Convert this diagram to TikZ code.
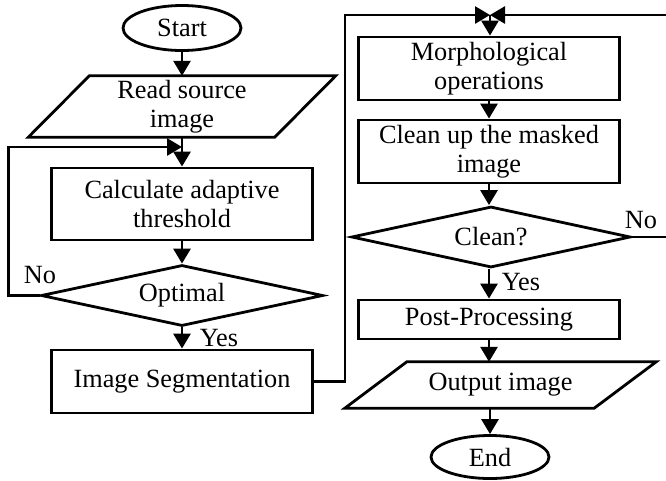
\documentclass[tikz,border=0pt]{standalone}
\usepackage{fontspec}
\setmainfont{Liberation Serif}
\usetikzlibrary{shapes.geometric,arrows.meta,calc}
\begin{document}
\begin{tikzpicture}[x=1pt,y=-1pt,
  every node/.style={font=\fontsize{26.3}{28.5}\selectfont, inner sep=0pt, align=center},
  line/.style={line width=2.8pt, line join=miter},
  arr/.style={line, -{Triangle[width=17pt,length=15pt]}},
  procbox/.style={draw, line width=2.8pt, rectangle, minimum width=261pt},
  term/.style={draw, line width=2.8pt, ellipse, minimum width=118pt, minimum height=45pt},
  decide/.style={draw, line width=2.8pt, diamond, shape aspect=4.6},
  iobox/.style={rectangle}
]
\useasboundingbox (0,0) rectangle (666,480);
% left column
\node[term] (start) at (182,28) {Start};
\node[iobox, minimum width=246pt, minimum height=61pt] (read) at (182,106.5) {Read source\\image};
\draw[line] ([xshift=30.5pt]read.north west) -- ([xshift=30.5pt]read.north east)
  -- ([xshift=-30.5pt]read.south east) -- ([xshift=-30.5pt]read.south west) -- cycle;
\node[procbox, minimum height=72pt] (calc) at (182,204) {Calculate adaptive\\threshold};
\node[decide, minimum width=282pt, minimum height=61pt] (opt) at (182,295.5) {Optimal};
\node[procbox, minimum height=63pt] (seg) at (182,381.5) {Image Segmentation};
\coordinate (jl) at (182,147);
\node (nol) at (40,275) {No};
\node (yesl) at (219,338) {Yes};
% right column
\coordinate (jr) at (490,15);
\node[procbox, minimum height=63pt] (morph) at (489,68.5) {Morphological\\operations};
\node[procbox, minimum height=63pt] (clean) at (489,151.5) {Clean up the masked\\image};
\node[decide, minimum width=279pt, minimum height=61pt] (cq) at (491,237) {Clean?};
\node[procbox, minimum height=39pt] (post) at (489,319.5) {Post-Processing};
\node[iobox, minimum width=249pt, minimum height=46pt] (out) at (500.5,385) {Output image};
\draw[line] ([xshift=31pt]out.north west) -- ([xshift=31pt]out.north east)
  -- ([xshift=-31pt]out.south east) -- ([xshift=-31pt]out.south west) -- cycle;
\node[term, minimum height=43pt] (end) at (490,457) {End};
\node (nor) at (641,220) {No};
\node (yesr) at (521,282) {Yes};
% connectors
\draw[arr] (start) -- (read);
\draw[arr] (read.south) -- (calc.north);
\draw[arr] (calc.south) -- (opt.north);
\draw[arr] (opt.south) -- (seg.north);
\draw[arr] (opt.west) -- ++(-31,0) |- (jl);
\draw[arr] (seg.east) -- (345,381.5) |- (jr);
\draw[arr] (cq.east) -- (690,237) |- (jr);
\draw[arr] (jr) -- (jr |- morph.north);
\draw[arr] (morph.south) -- (clean.north);
\draw[arr] (clean.south) -- (clean.south |- cq.north);
\draw[arr] (cq.south -| post.north) -- (post.north);
\draw[arr] (post.south) -- (post.south |- out.north);
\draw[arr] (end.north |- out.south) -- (end.north);
\end{tikzpicture}
\end{document}
